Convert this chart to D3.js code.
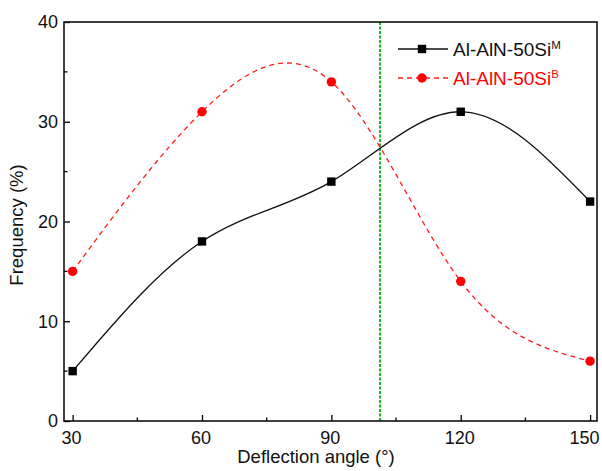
<!DOCTYPE html>
<html>
<head>
<meta charset="utf-8">
<script src="https://cdn.jsdelivr.net/npm/d3@7"></script>
<style>
  html, body { margin: 0; padding: 0; background: #fff; }
  svg { display: block; font-family: "Liberation Sans", Arial, sans-serif; }
</style>
</head>
<body>
<svg id="chart" width="602" height="471"></svg>
<script>
// Deflection angle (°) and measured frequency (%) for two sample states
const angles = [30, 60, 90, 120, 150];
const freqM = [5, 18, 24, 31, 22];   // Al-AlN-50Si^M
const freqB = [15, 31, 34, 14, 6];   // Al-AlN-50Si^B
const xTicks = [30, 60, 90, 120, 150];
const yTicks = [0, 10, 20, 30, 40];
const crossAngle = 101.3;            // angle where the two curves cross

const svg = d3.select("#chart");
const plotLeft = 64, plotRight = 597, plotTop = 22, plotBottom = 421;

const x = d3.scaleLinear().domain([28, 151.6]).range([plotLeft, plotRight]);
const y = d3.scaleLinear().domain([0, 40]).range([plotBottom, plotTop]);

// Minor ticks (inward)
const xMinor = d3.range(45, 151, 30);
const yMinor = d3.range(5, 40, 10);

const g = svg.append("g");

// Reference line at the crossing angle
g.append("line")
  .attr("x1", x(crossAngle)).attr("x2", x(crossAngle))
  .attr("y1", y(40)).attr("y2", y(0))
  .attr("stroke", "#1fae1f").attr("stroke-width", 2)
  .attr("stroke-dasharray", "3,1.5");

// Bottom axis
const xAxis = d3.axisBottom(x).tickValues(xTicks).tickSize(-6).tickPadding(10).tickFormat(d3.format("d"));
const gx = g.append("g").attr("transform", `translate(0,${plotBottom})`).call(xAxis);
gx.select(".domain").remove();
gx.selectAll(".tick line").attr("stroke", "#000").attr("stroke-width", 1.3);
gx.selectAll("text").attr("font-size", 18).attr("fill", "#111").attr("dx", -1.5);
// keep the last label inside the canvas
gx.selectAll(".tick").filter(d => d === xTicks[xTicks.length - 1]).select("text")
  .attr("text-anchor", "end").attr("dx", 0)
  .attr("x", 599 - x(xTicks[xTicks.length - 1]));
g.append("g").selectAll("line").data(xMinor).join("line")
  .attr("x1", d => x(d)).attr("x2", d => x(d))
  .attr("y1", plotBottom).attr("y2", plotBottom - 3.5)
  .attr("stroke", "#000").attr("stroke-width", 1.3);

// Left axis
const yAxis = d3.axisLeft(y).tickValues(yTicks).tickSize(-6).tickPadding(6).tickFormat(d3.format("d"));
const gy = g.append("g").attr("transform", `translate(${plotLeft},0)`).call(yAxis);
gy.select(".domain").remove();
gy.selectAll(".tick line").attr("stroke", "#000").attr("stroke-width", 1.3);
gy.selectAll("text").attr("font-size", 18).attr("fill", "#111");
g.append("g").selectAll("line").data(yMinor).join("line")
  .attr("x1", plotLeft).attr("x2", plotLeft + 3.5)
  .attr("y1", d => y(d)).attr("y2", d => y(d))
  .attr("stroke", "#000").attr("stroke-width", 1.3);

// Frame
g.append("rect")
  .attr("x", plotLeft).attr("y", plotTop)
  .attr("width", plotRight - plotLeft).attr("height", plotBottom - plotTop)
  .attr("fill", "none").attr("stroke", "#111").attr("stroke-width", 1.6);

// Axis titles
svg.append("text")
  .attr("x", 316).attr("y", 463)
  .attr("text-anchor", "middle").attr("font-size", 18.5).attr("fill", "#111")
  .text("Deflection angle (°)");
svg.append("text")
  .attr("transform", "translate(23,225) rotate(-90)")
  .attr("text-anchor", "middle").attr("font-size", 18.5).attr("fill", "#111")
  .text("Frequency (%)");

// Smoothed curves
const lineGen = d3.line().x(d => x(d[0])).y(d => y(d[1])).curve(d3.curveNatural);
const ptsM = angles.map((a, i) => [a, freqM[i]]);
const ptsB = angles.map((a, i) => [a, freqB[i]]);

g.append("path").attr("d", lineGen(ptsB))
  .attr("fill", "none").attr("stroke", "#ff1a1a").attr("stroke-width", 1.3)
  .attr("stroke-dasharray", "5,4");
g.append("path").attr("d", lineGen(ptsM))
  .attr("fill", "none").attr("stroke", "#111").attr("stroke-width", 1.3);

// Markers
g.append("g").selectAll("circle").data(ptsB).join("circle")
  .attr("cx", d => x(d[0])).attr("cy", d => y(d[1])).attr("r", 4.7)
  .attr("fill", "#ff0000");
g.append("g").selectAll("rect").data(ptsM).join("rect")
  .attr("x", d => x(d[0]) - 4.2).attr("y", d => y(d[1]) - 4.2)
  .attr("width", 8.4).attr("height", 8.4)
  .attr("fill", "#000");

// Legend
const legend = svg.append("g");
const lx1 = 398, lx2 = 448, lmid = 422, ltext = 453;
legend.append("line").attr("x1", lx1).attr("x2", lx2).attr("y1", 49).attr("y2", 49)
  .attr("stroke", "#111").attr("stroke-width", 1.3);
legend.append("rect").attr("x", lmid - 4.2).attr("y", 49 - 4.2).attr("width", 8.4).attr("height", 8.4).attr("fill", "#000");
const t1 = legend.append("text").attr("x", ltext).attr("y", 56).attr("font-size", 19).attr("fill", "#111");
t1.append("tspan").text("Al-AlN-50Si");
t1.append("tspan").attr("font-size", 11.5).attr("dy", -7).text("M");

legend.append("line").attr("x1", lx1).attr("x2", lx2).attr("y1", 78).attr("y2", 78)
  .attr("stroke", "#ff1a1a").attr("stroke-width", 1.3).attr("stroke-dasharray", "5,4");
legend.append("circle").attr("cx", lmid).attr("cy", 78).attr("r", 4.7).attr("fill", "#ff0000");
const t2 = legend.append("text").attr("x", ltext).attr("y", 85).attr("font-size", 19).attr("fill", "#ff0000");
t2.append("tspan").text("Al-AlN-50Si");
t2.append("tspan").attr("font-size", 11.5).attr("dy", -7).text("B");
</script>
</body>
</html>
